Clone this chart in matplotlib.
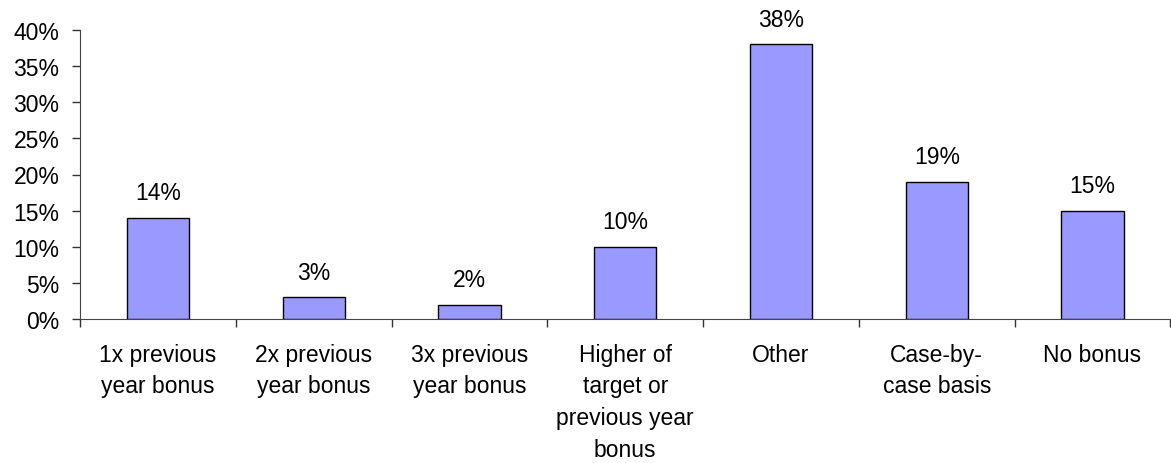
import matplotlib
matplotlib.use("Agg")
import matplotlib.pyplot as plt
import numpy as np

categories = ["1x previous\nyear bonus", "2x previous\nyear bonus", "3x previous\nyear bonus",
              "Higher of\ntarget or\nprevious year\nbonus", "Other", "Case-by-\ncase basis", "No bonus"]
values = [14, 3, 2, 10, 38, 19, 15]
ytick_vals = [0, 5, 10, 15, 20, 25, 30, 35, 40]

plt.rcParams['font.family'] = ['Liberation Sans', 'DejaVu Sans']
FS = 16.5

fig = plt.figure(figsize=(11.71, 4.64), dpi=100)
ax = fig.add_axes([80/1171, 144/464, (1171-80)/1171 - 0.0005, (320-31)/464])

x = np.arange(len(values))
ax.bar(x, values, width=0.4, color="#9999FF", edgecolor="black", linewidth=1.0, zorder=3)
for xi, v in zip(x, values):
    ax.text(xi, v + 3.45, f"{v}%", ha="center", va="center", fontsize=FS)

ax.set_xlim(-0.5, len(values) - 0.5)
ax.set_ylim(0, 40)
ax.set_yticks(ytick_vals)
ax.set_yticklabels([f"{v}%" for v in ytick_vals], fontsize=FS)
ax.set_xticks(x)
ax.set_xticklabels(categories, fontsize=FS, linespacing=1.48, va="top")
ax.tick_params(axis="x", which="major", length=0, pad=17)
ax.set_xticks(np.arange(-0.5, len(values) + 0.5, 1), minor=True)
ax.tick_params(axis="x", which="minor", length=5.5, width=1, color="#333333", direction="out")
ax.tick_params(axis="y", length=5.8, width=1, color="#333333", direction="out", pad=9)
for s in ["top", "right"]:
    ax.spines[s].set_visible(False)
ax.spines["left"].set_color("#444444")
ax.spines["bottom"].set_color("#444444")

fig.savefig("out.png", dpi=100)
